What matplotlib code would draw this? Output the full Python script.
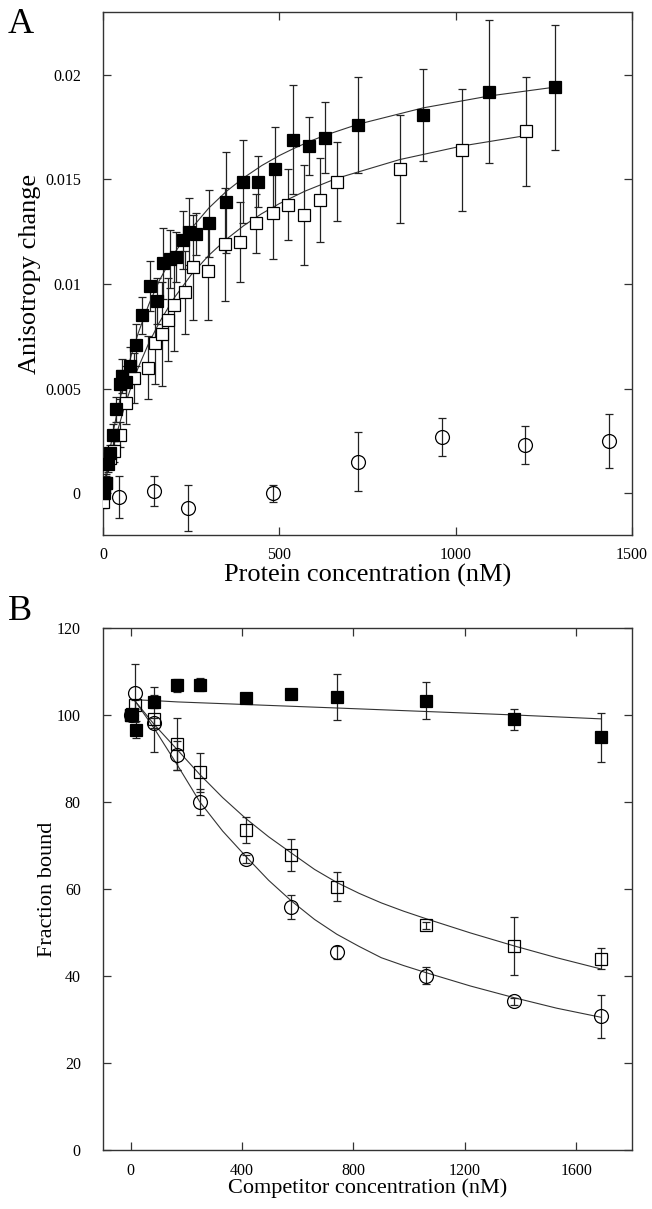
import matplotlib
matplotlib.use("Agg")
import matplotlib.pyplot as plt

plt.rcParams['font.family'] = ['Liberation Serif', 'DejaVu Serif']

# ---- Panel A: anisotropy titration ----
a_filled_x = [0, 3, 8, 14, 19, 28, 38, 49, 55, 66, 76, 93, 112, 133, 152, 170, 190, 207,
              226, 244, 263, 301, 349, 396, 441, 488, 538, 585, 630, 724, 908, 1096, 1281]
a_filled_y = [0.0000, 0.0003, 0.0005, 0.0014, 0.0019, 0.0028, 0.0040, 0.0052, 0.0056, 0.0053,
              0.0061, 0.0071, 0.0085, 0.0099, 0.0092, 0.0110, 0.0112, 0.0113, 0.0121, 0.0125,
              0.0124, 0.0129, 0.0139, 0.0149, 0.0149, 0.0155, 0.0169, 0.0166, 0.0170, 0.0176,
              0.0181, 0.0192, 0.0194]
a_filled_err = [0.0003, 0.0003, 0.0003, 0.0004, 0.0004, 0.0005, 0.0006, 0.0007, 0.0008, 0.0008,
                0.0009, 0.0010, 0.0009, 0.0012, 0.0011, 0.0017, 0.0014, 0.0012, 0.0014, 0.0016,
                0.0010, 0.0016, 0.0024, 0.0020, 0.0012, 0.0020, 0.0026, 0.0014, 0.0017, 0.0023,
                0.0022, 0.0034, 0.0030]

a_open_x = [0, 4, 9, 19, 30, 47, 66, 88, 129, 148, 166, 184, 200, 233, 254, 297, 345, 389,
            435, 481, 525, 569, 615, 663, 842, 1019, 1201]
a_open_y = [-0.0004, 0.0000, 0.0005, 0.0017, 0.0020, 0.0028, 0.0043, 0.0055, 0.0060, 0.0072,
            0.0076, 0.0083, 0.0090, 0.0096, 0.0108, 0.0106, 0.0119, 0.0120, 0.0129, 0.0134,
            0.0138, 0.0133, 0.0140, 0.0149, 0.0155, 0.0164, 0.0173]
a_open_err = [0.0003, 0.0004, 0.0004, 0.0004, 0.0005, 0.0006, 0.0010, 0.0012, 0.0015, 0.0020,
              0.0025, 0.0020, 0.0022, 0.0020, 0.0025, 0.0023, 0.0027, 0.0019, 0.0014, 0.0022,
              0.0017, 0.0024, 0.0020, 0.0019, 0.0026, 0.0029, 0.0026]

a_circ_x = [46, 145, 240, 481, 724, 962, 1198, 1434]
a_circ_y = [-0.0002, 0.0001, -0.0007, 0.0000, 0.0015, 0.0027, 0.0023, 0.0025]
a_circ_err = [0.0010, 0.0007, 0.0011, 0.0004, 0.0014, 0.0009, 0.0009, 0.0013]

# fitted curves as drawn
a_fit_filled_x = [0, 10, 20, 30, 40, 50, 60, 80, 100, 130, 160, 200, 250, 300, 350, 400,
                  450, 500, 540, 585, 630, 724, 908, 1096, 1281]
a_fit_filled_y = [0, 0.00111, 0.00211, 0.00303, 0.00386, 0.00463, 0.00533, 0.00658, 0.00766,
                  0.00903, 0.01017, 0.01141, 0.01264, 0.01363, 0.01443, 0.01509, 0.01566,
                  0.01614, 0.01647, 0.01681, 0.01711, 0.01764, 0.01842, 0.01899, 0.01941]
a_fit_open_x = [0, 10, 20, 40, 60, 80, 100, 130, 160, 200, 250, 300, 350, 400, 450, 500,
                573, 663, 842, 1019, 1201]
a_fit_open_y = [0, 0.00082, 0.00157, 0.00291, 0.00408, 0.00510, 0.00601, 0.00718, 0.00817,
                0.00929, 0.01044, 0.01137, 0.01214, 0.01280, 0.01336, 0.01384, 0.01444,
                0.01505, 0.01595, 0.01660, 0.01710]

# ---- Panel B: competition ----
b_filled_x = [0, 3, 18, 84, 167, 248, 413, 576, 740, 1059, 1378, 1690]
b_filled_y = [100, 100.2, 96.6, 103.0, 106.8, 107.0, 103.8, 104.9, 104.1, 103.3, 99.0, 94.9]
b_filled_err = [1.0, 1.0, 2.0, 1.5, 1.5, 1.5, 0.5, 0.5, 5.3, 4.3, 2.4, 5.6]

b_open_x = [0, 14, 84, 167, 248, 413, 576, 740, 1059, 1378, 1690]
b_open_y = [100, 102.4, 99.0, 93.3, 86.8, 73.6, 67.9, 60.5, 51.7, 46.9, 44.0]
b_open_err = [1.0, 1.0, 7.5, 5.9, 4.4, 3.0, 3.7, 3.3, 0.8, 6.6, 2.5]

b_circ_x = [0, 14, 84, 167, 248, 413, 576, 740, 1059, 1378, 1690]
b_circ_y = [100, 105.0, 98.2, 90.7, 79.9, 66.9, 55.8, 45.5, 40.1, 34.2, 30.7]
b_circ_err = [1.0, 6.7, 1.2, 3.4, 3.0, 1.0, 2.8, 1.5, 1.9, 0.8, 4.9]

b_fit_filled_x = [14, 84, 167, 248, 413, 576, 740, 1059, 1378, 1690]
b_fit_filled = [103.5, 103.3, 103.0, 102.8, 102.4, 102.0, 101.6, 100.8, 100.0, 99.1]
b_fit_x = [14, 84, 167, 248, 330, 413, 495, 576, 660, 740, 820, 900, 980, 1059,
           1220, 1378, 1530, 1690]
b_fit_open = [103.3, 97.8, 92.0, 86.3, 81.0, 76.2, 72.0, 68.3, 64.5, 61.5, 59.0, 56.8,
              54.9, 53.2, 49.9, 46.9, 44.2, 41.6]
b_fit_circ = [103.3, 96.9, 88.5, 80.0, 73.3, 67.5, 62.0, 57.3, 53.0, 49.6, 46.8, 44.2,
              42.4, 40.8, 37.7, 35.0, 32.6, 30.5]


def style_axes(ax):
    for s in ax.spines.values():
        s.set_linewidth(1.0)
        s.set_color('#333333')
    ax.tick_params(direction='in', top=True, right=True, length=6, width=0.9,
                   labelsize=11.5, color='#333333')
    ax.tick_params(axis='y', pad=16)
    ax.tick_params(axis='x', pad=9)


def errplot(ax, x, y, e, marker, face, ms):
    ax.errorbar(x, y, yerr=e, fmt=marker, mfc=face, mec='black', mew=0.9, ms=ms,
                ecolor='#222222', elinewidth=0.9, capsize=3, capthick=0.9, zorder=3)


fig = plt.figure(figsize=(6.52, 12.09), dpi=100)

# Panel A
axA = fig.add_axes([0.158, 0.5575, 0.811, 0.4325])
axA.plot(a_fit_filled_x, a_fit_filled_y, color='#333333', lw=0.8, zorder=2)
axA.plot(a_fit_open_x, a_fit_open_y, color='#333333', lw=0.8, zorder=2)
errplot(axA, a_circ_x, a_circ_y, a_circ_err, 'o', 'none', 10)
errplot(axA, a_open_x, a_open_y, a_open_err, 's', 'white', 8)
errplot(axA, a_filled_x, a_filled_y, a_filled_err, 's', 'black', 8)
axA.set_xlim(0, 1500)
axA.set_ylim(-0.002, 0.023)
axA.set_xticks([0, 500, 1000, 1500])
axA.set_yticks([0, 0.005, 0.01, 0.015, 0.02])
axA.set_yticklabels(['0', '0.005', '0.01', '0.015', '0.02'])
axA.set_xlabel('Protein concentration (nM)', fontsize=19, labelpad=0)
axA.set_ylabel('Anisotropy change', fontsize=19, labelpad=3)
style_axes(axA)

# Panel B
axB = fig.add_axes([0.158, 0.0488, 0.811, 0.4318])
axB.plot(b_fit_filled_x, b_fit_filled, color='#333333', lw=0.8, zorder=2)
axB.plot(b_fit_x, b_fit_open, color='#333333', lw=0.8, zorder=2)
axB.plot(b_fit_x, b_fit_circ, color='#333333', lw=0.8, zorder=2)
errplot(axB, b_circ_x, b_circ_y, b_circ_err, 'o', 'none', 10)
errplot(axB, b_open_x, b_open_y, b_open_err, 's', 'none', 8.2)
errplot(axB, b_filled_x, b_filled_y, b_filled_err, 's', 'black', 8.2)
axB.set_xlim(-100, 1800)
axB.set_ylim(0, 120)
axB.set_xticks([0, 400, 800, 1200, 1600])
axB.set_yticks([0, 20, 40, 60, 80, 100, 120])
axB.set_xlabel('Competitor concentration (nM)', fontsize=16, labelpad=0)
axB.set_ylabel('Fraction bound', fontsize=16, labelpad=0)
style_axes(axB)

fig.text(0.012, 0.993, 'A', fontsize=26, va='top', ha='left')
fig.text(0.012, 0.508, 'B', fontsize=26, va='top', ha='left')

fig.savefig('out.png', dpi=100)
